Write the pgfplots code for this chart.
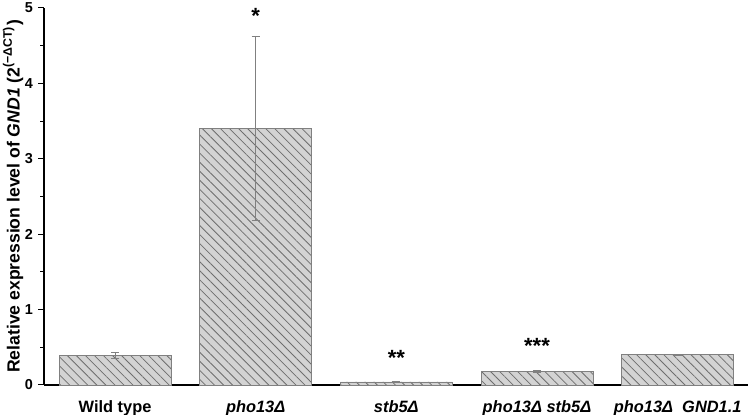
\documentclass[border=0pt]{standalone}
\usepackage{fontspec}
\setmainfont{Liberation Sans}
\usepackage{pgfplots}
\pgfplotsset{compat=1.18}
\usetikzlibrary{patterns.meta}

\definecolor{barfill}{HTML}{D3D3D3}
\definecolor{hatch}{HTML}{6E6E6E}

\begin{document}
\begin{tikzpicture}
\begin{axis}[
  name=ax,
  scale only axis,
  width=352pt, height=188.5pt,
  xmin=-0.505, xmax=4.5,
  ymin=0, ymax=5,
  axis x line*=bottom,
  axis y line*=left,
  ytick={0,1,2,3,4,5},
  minor ytick={0.5,1.5,2.5,3.5,4.5},
  tick align=outside,
  major tick length=3pt,
  minor tick length=1.8pt,
  xtick=data,
  xticklabels={Wild type, \textit{pho13Δ}, \textit{stb5Δ}, \textit{pho13Δ stb5Δ}, \textit{pho13Δ\ \ GND1.1}},
  major x tick style={draw=none},
  /pgf/number format/assume math mode=true,
  yticklabel style={font=\fontsize{7.2}{8}\selectfont\bfseries, xshift=1pt},
  xticklabel style={font=\fontsize{8.2}{9}\selectfont\bfseries, anchor=base, yshift=-11pt},
  ylabel={\bfseries Relative expression level of \textit{GND1} (2\textsuperscript{(−ΔCT)})},
  ylabel style={font=\fontsize{8.8}{9}\selectfont, yshift=-6pt},
  axis line style={line width=0.6pt},
  every tick/.style={black, line width=0.5pt},
  clip=false,
]
\addplot[ybar, bar width=56pt, fill=barfill, draw=gray, line width=0.4pt,
  postaction={pattern={Lines[angle=-45,distance=3.2pt,line width=0.4pt]}, pattern color=hatch},
  error bars/.cd, y dir=both, y explicit,
  error bar style={gray, line width=0.4pt},
  error mark options={rotate=90, mark size=2pt, gray, line width=0.4pt}]
coordinates {
  (0, 0.39) +- (0, 0.04)
  (1, 3.40) +- (0, 1.22)
  (2, 0.04) +- (0, 0.01)
  (3, 0.18) +- (0, 0.01)
  (4, 0.40) +- (0, 0.01)
};
\node[font=\fontsize{11}{11}\selectfont\bfseries] at (axis cs:1,4.90) {*};
\node[font=\fontsize{11}{11}\selectfont\bfseries] at (axis cs:2,0.36) {**};
\node[font=\fontsize{11}{11}\selectfont\bfseries] at (axis cs:3,0.52) {***};
\end{axis}
\pgfresetboundingbox
\path ([xshift=-22pt,yshift=-15pt]ax.south west) rectangle ([xshift=1pt,yshift=4pt]ax.north east);
\end{tikzpicture}
\end{document}
